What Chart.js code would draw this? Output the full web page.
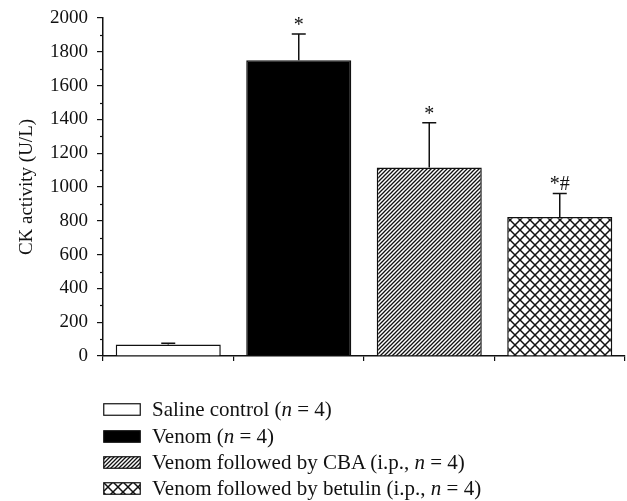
<!DOCTYPE html>
<html>
<head>
<meta charset="utf-8">
<script src="https://cdn.jsdelivr.net/npm/chart.js@4/dist/chart.umd.min.js"></script>
<style>
  html, body { margin: 0; padding: 0; background: #fff; }
  #wrap { position: relative; width: 627px; height: 501px; }
  #chart { position: absolute; left: 0; top: 0; }
  #legend { position: absolute; left: 103px; top: 0; font-family: "Liberation Serif", serif; font-size: 21px; color: #111; }
  .row { position: absolute; left: 0; white-space: nowrap; display: flex; align-items: center; height: 24px; }
  .row canvas { display: block; margin-right: 11px; }
</style>
</head>
<body>
<div id="wrap">
  <canvas id="chart" width="627" height="501"></canvas>
  <div id="legend"></div>
</div>
<script>
// data
const groups = ['Saline control', 'Venom', 'Venom followed by CBA', 'Venom followed by betulin'];
const legendLabels = [
  'Saline control (<i>n</i> = 4)',
  'Venom (<i>n</i> = 4)',
  'Venom followed by CBA (i.p., <i>n</i> = 4)',
  'Venom followed by betulin (i.p., <i>n</i> = 4)'
];
const ckMeans = [68, 1750, 1115, 822];
const ckErrors = [8, 155, 265, 140];
const marks = ['', '*', '*', '*#'];
const yTicks = [0, 200, 400, 600, 800, 1000, 1200, 1400, 1600, 1800, 2000];

const serif = '"Liberation Serif", "Times New Roman", serif';

function makePattern(kind) {
    const c = document.createElement('canvas');
    const ctx = c.getContext('2d');
    if (kind === 'hatch') {
        c.width = 4; c.height = 4;
        ctx.fillStyle = '#fff';
        ctx.fillRect(0, 0, 4, 4);
        ctx.strokeStyle = '#111';
        ctx.lineWidth = 1.3;
        ctx.beginPath();
        ctx.moveTo(-1, 5); ctx.lineTo(5, -1);
        ctx.moveTo(-1, 1); ctx.lineTo(1, -1);
        ctx.moveTo(3, 5); ctx.lineTo(5, 3);
        ctx.stroke();
    } else {
        c.width = 10; c.height = 10;
        ctx.fillStyle = '#fff';
        ctx.fillRect(0, 0, 10, 10);
        ctx.strokeStyle = '#111';
        ctx.lineWidth = 1.5;
        ctx.beginPath();
        ctx.moveTo(0, 0); ctx.lineTo(10, 10);
        ctx.moveTo(10, 0); ctx.lineTo(0, 10);
        ctx.stroke();
    }
    return document.getElementById('chart').getContext('2d').createPattern(c, 'repeat');
}

const fills = ['#fff', '#000', makePattern('hatch'), makePattern('cross')];

// error bars, significance marks and minor ticks
const extras = {
    id: 'extras',
    afterDatasetsDraw(chart) {
        const ctx = chart.ctx;
        const y = chart.scales.y;
        const bars = chart.getDatasetMeta(0).data;
        ctx.save();
        ctx.strokeStyle = '#111';
        ctx.lineWidth = 1.5;
        bars.forEach((bar, i) => {
            const top = y.getPixelForValue(ckMeans[i] + ckErrors[i]);
            ctx.beginPath();
            ctx.moveTo(bar.x, bar.y);
            ctx.lineTo(bar.x, top);
            ctx.moveTo(bar.x - 7, top);
            ctx.lineTo(bar.x + 7, top);
            ctx.stroke();
            if (marks[i]) {
                ctx.fillStyle = '#111';
                ctx.font = '20px ' + serif;
                ctx.textAlign = 'center';
                ctx.textBaseline = 'alphabetic';
                ctx.fillText(marks[i], bar.x, top - 3);
            }
        });
        // minor ticks every 100
        const left = chart.chartArea.left;
        ctx.lineWidth = 1.2;
        for (let v = 100; v < 2000; v += 200) {
            const py = Math.round(y.getPixelForValue(v)) + 0.5;
            ctx.beginPath();
            ctx.moveTo(left - 3, py);
            ctx.lineTo(left, py);
            ctx.stroke();
        }
        ctx.restore();
    }
};

new Chart(document.getElementById('chart'), {
    type: 'bar',
    data: {
        labels: groups,
        datasets: [{
            data: ckMeans,
            backgroundColor: fills,
            borderColor: '#111',
            borderWidth: 1.5,
            barPercentage: 0.805,
            categoryPercentage: 1
        }]
    },
    options: {
        responsive: false,
        animation: false,
        events: [],
        layout: { padding: { top: 18, right: 2, left: 0, bottom: 0 } },
        plugins: { legend: { display: false }, tooltip: { enabled: false } },
        scales: {
            x: {
                offset: true,
                grid: { display: true, drawOnChartArea: false, drawTicks: true, tickLength: 5, offset: true, color: '#111', lineWidth: 1.2 },
                border: { display: true, color: '#111', width: 1.5 },
                ticks: { display: false },
                afterFit: s => { s.height = 145; }
            },
            y: {
                min: 0,
                max: 2000,
                afterBuildTicks: s => { s.ticks = yTicks.map(v => ({ value: v })); },
                grid: { display: true, drawOnChartArea: false, drawTicks: true, tickLength: 6, color: '#111', lineWidth: 1.2 },
                border: { display: true, color: '#111', width: 1.5 },
                ticks: { color: '#111', padding: 9, font: { family: serif, size: 19 }, callback: v => String(v) },
                title: { display: true, text: 'CK activity (U/L)', color: '#111', padding: { top: 16, bottom: 0 }, font: { family: serif, size: 19 } },
                afterFit: s => { s.width = 103; s.paddingTop = 0; s.paddingBottom = 0; }
            }
        }
    },
    plugins: [extras]
});

// legend below the plot
const legend = document.getElementById('legend');
const rowCenters = [409, 436, 462, 488];
legendLabels.forEach((txt, i) => {
    const row = document.createElement('div');
    row.className = 'row';
    row.style.top = (rowCenters[i] - 12) + 'px';
    const sw = document.createElement('canvas');
    sw.width = 38; sw.height = 13;
    const g = sw.getContext('2d');
    g.fillStyle = fills[i];
    g.fillRect(0.75, 0.75, 36.5, 11.5);
    g.strokeStyle = '#111';
    g.lineWidth = 1.2;
    g.strokeRect(0.75, 0.75, 36.5, 11.5);
    const label = document.createElement('span');
    label.innerHTML = txt;
    row.appendChild(sw);
    row.appendChild(label);
    legend.appendChild(row);
});
</script>
</body>
</html>
